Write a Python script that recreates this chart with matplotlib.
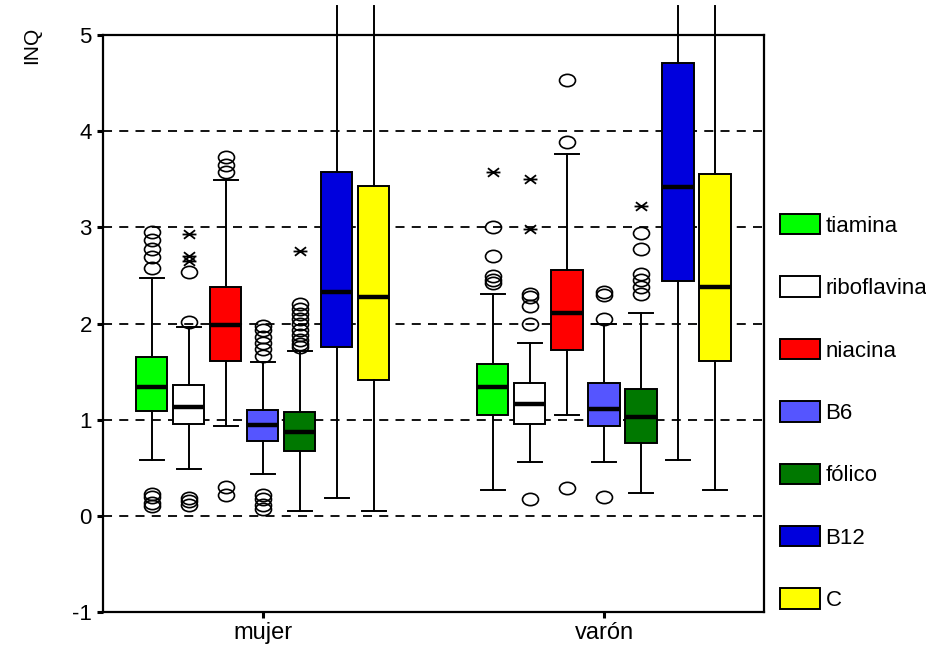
import matplotlib

matplotlib.use('Agg')

import matplotlib.pyplot as plt
import numpy as np
from matplotlib.patches import Patch
from matplotlib.path import Path
from matplotlib.transforms import Affine2D

plt.rcParams['font.family'] = ['Liberation Sans', 'DejaVu Sans']

groups = ['mujer', 'varón']
nutrients = ['tiamina', 'riboflavina', 'niacina', 'B6', 'fólico', 'B12', 'C']
box_colors = ['#00ff00', '#ffffff', '#ff0000', '#5555ff', '#007800', '#0000dd', '#ffff00']

# quartiles, medians and whisker ends per group (same order as nutrients)
mujer_q1 = [1.09, 0.96, 1.61, 0.78, 0.67, 1.76, 1.41]
mujer_med = [1.34, 1.13, 1.98, 0.94, 0.87, 2.33, 2.28]
mujer_q3 = [1.65, 1.36, 2.38, 1.10, 1.08, 3.58, 3.43]
mujer_lo = [0.58, 0.49, 0.93, 0.44, 0.05, 0.19, 0.05]
mujer_hi = [2.47, 1.96, 3.49, 1.60, 1.71, 5.3, 5.3]

varon_q1 = [1.05, 0.96, 1.72, 0.93, 0.76, 2.44, 1.61]
varon_med = [1.34, 1.16, 2.11, 1.11, 1.03, 3.42, 2.38]
varon_q3 = [1.58, 1.38, 2.56, 1.38, 1.32, 4.71, 3.56]
varon_lo = [0.27, 0.56, 1.05, 0.56, 0.24, 0.58, 0.27]
varon_hi = [2.31, 1.80, 3.76, 1.99, 2.11, 5.3, 5.3]

# outliers (circles) and extreme values (asterisks)
mujer_out = [
    [2.95, 2.87, 2.78, 2.69, 2.58, 0.23, 0.20, 0.13, 0.10],
    [2.54, 2.02, 0.19, 0.15, 0.11],
    [3.73, 3.65, 3.58, 0.30, 0.22],
    [1.97, 1.93, 1.86, 1.80, 1.73, 1.66, 0.22, 0.17, 0.11, 0.07],
    [2.20, 2.15, 2.10, 2.05, 1.99, 1.93, 1.88, 1.83, 1.79, 1.76],
    [],
    [],
]
mujer_ext = [[], [2.93, 2.70, 2.65], [], [], [2.75], [], []]

varon_out = [
    [3.00, 2.70, 2.49, 2.45, 2.42],
    [2.31, 2.28, 2.18, 2.00, 0.17],
    [4.53, 3.89, 0.29],
    [2.33, 2.30, 2.05, 0.20],
    [2.94, 2.78, 2.52, 2.45, 2.38, 2.31],
    [],
    [],
]
varon_ext = [[3.58], [3.50, 2.98], [], [], [3.22], [], []]

y_ticks = [-1, 0, 1, 2, 3, 4, 5]

ellipse = Path.unit_circle().transformed(Affine2D().scale(1.3, 1.0))
star = Path([(-1, 0), (1, 0), (-0.8, -0.62), (0.8, 0.62), (-0.8, 0.62), (0.8, -0.62)],
            [Path.MOVETO, Path.LINETO] * 3)

fig = plt.figure(figsize=(9.26, 6.5), dpi=100)
ax = fig.add_axes([0.1112, 0.0585, 0.7138, 0.8875])

step = 0.1085
width = 0.091
line_kw = dict(color='black', linewidth=1.4)

series = [
    (mujer_q1, mujer_med, mujer_q3, mujer_lo, mujer_hi, mujer_out, mujer_ext),
    (varon_q1, varon_med, varon_q3, varon_lo, varon_hi, varon_out, varon_ext),
]
ymax = 5
for g, (q1, med, q3, lo, hi, outs, exts) in enumerate(series):
    center = g + 1
    positions = [center + (i - 3) * step for i in range(len(nutrients))]
    stats = [dict(q1=q1[i], med=med[i], q3=q3[i], whislo=lo[i], whishi=hi[i], fliers=outs[i])
             for i in range(len(nutrients))]
    parts = ax.bxp(stats, positions=positions, widths=width, capwidths=width * 0.75,
                   patch_artist=True, showfliers=True,
                   boxprops=dict(edgecolor='black', linewidth=1.4),
                   medianprops=dict(color='black', linewidth=3.2, solid_capstyle='butt'),
                   whiskerprops=line_kw, capprops=line_kw,
                   flierprops=dict(marker=ellipse, markersize=11.5, markerfacecolor='none',
                                   markeredgecolor='black', markeredgewidth=1.2))
    for box, color in zip(parts['boxes'], box_colors):
        box.set_facecolor(color)
    # whiskers running past the top of the axis are left unclipped and uncapped
    for i in range(len(nutrients)):
        if hi[i] > ymax:
            parts['whiskers'][2 * i + 1].set_clip_on(False)
            parts['caps'][2 * i + 1].set_visible(False)
        if exts[i]:
            ax.plot([positions[i]] * len(exts[i]), exts[i], linestyle='none', marker=star,
                    markersize=10, markerfacecolor='none', markeredgecolor='black',
                    markeredgewidth=1.3)

for y in y_ticks[1:-1]:
    ax.axhline(y, color='black', linewidth=1.3, linestyle=(0, (5, 4)), zorder=0)

ax.set_xlim(0.531, 2.469)
ax.set_ylim(-1, 5)
ax.set_xticks([1, 2])
ax.set_xticklabels(groups, fontsize=17)
ax.set_yticks(y_ticks)
ax.set_yticklabels([str(v) for v in y_ticks], fontsize=16)
ax.tick_params(axis='both', direction='out', length=4, width=2.2, pad=4)
ax.tick_params(axis='x', pad=3)
for side in ax.spines.values():
    side.set_linewidth(1.6)

ax.set_ylabel('INQ', fontsize=15)
ax.yaxis.set_label_coords(-0.094, 0.983)

handles = [Patch(facecolor=c, edgecolor='black', linewidth=1.4) for c in box_colors]
fig.legend(handles, nutrients, loc='upper left', bbox_to_anchor=(780 / 926, 1 - 214 / 650),
           frameon=False, fontsize=16, handlelength=1.8, handleheight=1.04,
           handletextpad=0.25, labelspacing=1.78, borderpad=0, borderaxespad=0)

fig.savefig('out.png', dpi=100)
